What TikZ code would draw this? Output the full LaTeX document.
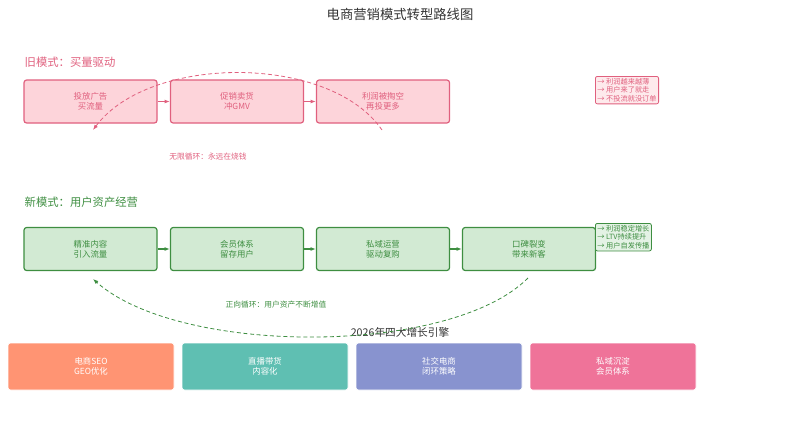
\documentclass[tikz,border=0pt]{standalone}
\usepackage{fontspec}
\newfontfamily\cjk{Noto Sans CJK SC}
\usetikzlibrary{arrows.meta}
\definecolor{rd}{HTML}{E0607E}
\definecolor{rdf}{HTML}{FDD4DA}
\definecolor{gn}{HTML}{3E8E41}
\definecolor{gnf}{HTML}{D2EAD3}
\definecolor{e1}{HTML}{FF9473}
\definecolor{e2}{HTML}{5FBFB2}
\definecolor{e3}{HTML}{8893CF}
\definecolor{e4}{HTML}{EF7399}
\begin{document}
\begin{tikzpicture}[x=0.75pt,y=-0.75pt,font=\cjk,
 old/.style={draw=rd,fill=rdf,line width=0.9pt,rounded corners=2pt,minimum width=133*0.75pt,minimum height=43*0.75pt,text=rd,font=\cjk\fontsize{6.3}{7.5}\selectfont,align=center},
 new/.style={old,draw=gn,fill=gnf,text=gn},
 eng/.style={rounded corners=2pt,minimum width=166*0.75pt,minimum height=47*0.75pt,text=white,font=\cjk\fontsize{6.3}{7.5}\selectfont,align=center,draw=white},
 note/.style={draw,rounded corners=1.5pt,line width=0.6pt,font=\cjk\fontsize{5.4}{6.3}\selectfont,align=left,inner sep=1.5pt},
 oarr/.style={-{Latex[length=4pt]},line width=1pt,rd},
 narr/.style={-{Latex[length=4pt]},line width=1pt,gn}]
\useasboundingbox (0,0) rectangle (800,430);
\node[font=\cjk\fontsize{10}{12}\selectfont,text=black!80] (title) at (400,14) {电商营销模式转型路线图};
\node[anchor=west,text=rd,font=\cjk\fontsize{8.5}{10}\selectfont] (h1) at (20,62) {旧模式：买量驱动};
\node[anchor=west,text=gn,font=\cjk\fontsize{8.5}{10}\selectfont] (h2) at (20,202) {新模式：用户资产经营};
\node[old] (o1) at (90.5,101.5) {投放广告\\买流量};
\node[old] (o2) at (237,101.5) {促销卖货\\冲GMV};
\node[old] (o3) at (383,101.5) {利润被掏空\\再投更多};
\draw[oarr] (o1) -- (o2);
\draw[oarr] (o2) -- (o3);
\node[note,draw=rd,fill=rdf!50,text=rd,anchor=north west] (n1) at (595,76) {→ 利润越来越薄\\→ 用户来了就走\\→ 不投流就没订单};
\coordinate (os) at (382,130); \coordinate (oe) at (93,130);
\draw[rd,densely dashed,line width=0.6pt,-{Latex[length=4pt]}] (os) .. controls (330,54) and (150,54) .. (oe);
\node[text=rd,font=\cjk\fontsize{5.8}{7}\selectfont] (l1) at (208,157) {无限循环：永远在烧钱};
\node[new] (g1) at (90.5,249) {精准内容\\引入流量};
\node[new] (g2) at (237,249) {会员体系\\留存用户};
\node[new] (g3) at (383,249) {私域运营\\驱动复购};
\node[new] (g4) at (529,249) {口碑裂变\\带来新客};
\draw[narr] (g1) -- (g2);
\draw[narr] (g2) -- (g3);
\draw[narr] (g3) -- (g4);
\node[note,draw=gn,fill=gnf!60,text=gn,anchor=north west] (n2) at (595,223) {→ 利润稳定增长\\→ LTV持续提升\\→ 用户自发传播};
\node[eng,fill=e1] (e1) at (91,366.5) {电商SEO\\GEO优化};
\node[eng,fill=e2] (e2) at (265,366.5) {直播带货\\内容化};
\node[eng,fill=e3] (e3) at (439,366.5) {社交电商\\闭环策略};
\node[eng,fill=e4] (e4) at (613,366.5) {私域沉淀\\会员体系};
\node[font=\cjk\fontsize{8}{9.5}\selectfont,text=black!80] (t2) at (400,332) {2026年四大增长引擎};
\coordinate (gs) at (528,278); \coordinate (ge) at (93,279);
\draw[gn,densely dashed,line width=0.6pt,-{Latex[length=4pt]}] (gs) .. controls (450,356) and (180,356) .. (ge);
\node[text=gn,font=\cjk\fontsize{5.8}{7}\selectfont] (l2) at (276,305) {正向循环：用户资产不断增值};
\end{tikzpicture}
\end{document}
